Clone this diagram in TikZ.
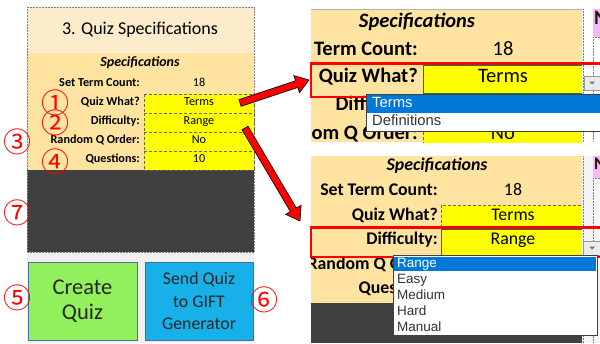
\documentclass[tikz,border=0pt]{standalone}
\usepackage{fontspec}
\setmainfont{Carlito}
\newfontfamily\circfont{Noto Sans CJK JP}
\newfontfamily\listfont{Liberation Sans}
\usetikzlibrary{calc}
\definecolor{titlebg}{RGB}{253,236,204}
\definecolor{specbg}{RGB}{254,228,160}
\definecolor{cellyel}{RGB}{255,255,0}
\definecolor{darkbg}{RGB}{64,64,64}
\definecolor{graybg}{RGB}{240,240,240}
\definecolor{btngreen}{RGB}{146,240,92}
\definecolor{btnblue}{RGB}{24,176,232}
\definecolor{btnborder}{RGB}{65,113,156}
\definecolor{selblue}{RGB}{0,120,215}
\definecolor{selgreen}{RGB}{33,115,70}
\definecolor{pinkcell}{RGB}{248,184,248}
\newcommand\fatarrow[2]{%
  \coordinate (#1n) at ($(#2)!13pt!(#1)$);
  \fill[red, draw=black, line width=0.6pt, line join=miter]
    ($(#1)!3.5pt!90:(#2)$) -- ($(#1n)!3.5pt!-90:(#1)$) -- ($(#1n)!9pt!-90:(#1)$) -- (#2)
    -- ($(#1n)!9pt!90:(#1)$) -- ($(#1n)!3.5pt!90:(#1)$) -- ($(#1)!3.5pt!-90:(#2)$) -- cycle;}
\tikzset{
  lbl/.style={font=\fontsize{12.2}{13}\selectfont\bfseries, anchor=mid east, inner sep=0pt},
  val/.style={font=\fontsize{12.2}{13}\selectfont, anchor=mid, inner sep=0pt},
  Ulbl/.style={font=\fontsize{20.5}{21}\selectfont\bfseries, anchor=mid east, inner sep=0pt},
  Uval/.style={font=\fontsize{20.5}{21}\selectfont, anchor=mid, inner sep=0pt},
  Dlbl/.style={font=\fontsize{17.8}{18}\selectfont\bfseries, anchor=mid east, inner sep=0pt},
  Dval/.style={font=\fontsize{17.8}{18}\selectfont, anchor=mid, inner sep=0pt},
  spechead/.style={anchor=mid, inner sep=0pt},
  ycell/.style={fill=cellyel, draw=black!60, densely dashed, line width=0.4pt},
  selcell/.style={fill=cellyel, draw=selgreen, line width=0.9pt},
  circ/.style={font=\circfont\fontsize{28}{28}\selectfont, text=red, inner sep=0pt, anchor=center},
  btn/.style={draw=btnborder, line width=1pt, align=center, text=black!85, inner sep=0pt},
  item/.style={anchor=mid west, inner sep=0pt, text=black!80},
  redbox/.style={draw=red, line width=2.5pt},
  ddlist/.style={fill=white, draw=black!75, line width=0.8pt},
  ddbtn/.style={fill=black!8, draw=black!40, line width=0.4pt},
  colsep/.style={draw=black!50, densely dotted, line width=0.5pt},
}
\begin{document}
\begin{tikzpicture}[x=1pt, y=-1pt]
\useasboundingbox (0,0) rectangle (600,343);
\fill[white] (0,0) rectangle (600,343);
%%%%%%%%%%%%%%%% LEFT PANEL
\fill[titlebg] (27,7) rectangle (254,53);
\fill[specbg] (27,53) rectangle (254,170);
\fill[darkbg] (27,170) rectangle (254,252);
\fill[graybg] (27,252) rectangle (254,343);
\draw[colsep] (27,7) rectangle (254,252);
\node[font=\fontsize{18}{19}\selectfont, inner sep=0pt, anchor=mid] (ttl) at (140,32) {3. Quiz Specifications};
\node[spechead, font=\fontsize{14}{15}\selectfont\bfseries\itshape] (lspec) at (140,64) {Specifications};
\node[lbl] (lstc) at (140,84) {Set Term Count:};
\node[val] (l18) at (199,84) {18};
\path[ycell] (144,94) rectangle (254,113);
\path[ycell] (144,113) rectangle (254,132);
\path[ycell] (144,132) rectangle (254,151);
\path[ycell] (144,151) rectangle (254,170);
\node[val] (lterms) at (199,103.5) {Terms};
\node[val] (lrange) at (199,122.5) {Range};
\node[val] (lno) at (199,141.5) {No};
\node[val] (lten) at (199,160.5) {10};
\node[lbl] (lqw) at (140,103.5) {Quiz What?};
\node[lbl] (ldif) at (140,122.5) {Difficulty:};
\node[lbl] (lrnd) at (140,141.5) {Random Q Order:};
\node[lbl] (lqs) at (140,160.5) {Questions:};
\node[btn, fill=btngreen, minimum width=109pt, minimum height=78pt, font=\fontsize{22.5}{25}\selectfont] (create) at (82.5,301) {Create\\Quiz};
\node[btn, fill=btnblue, minimum width=108pt, minimum height=78pt, font=\fontsize{17.8}{22.5}\selectfont] (send) at (199,301) {Send Quiz\\to GIFT\\Generator};
\node[circ] (n1) at (55,103) {①};
\node[circ] (n2) at (55,123) {②};
\node[circ] (n3) at (17,142) {③};
\node[circ] (n4) at (55,162) {④};
\node[circ] (n7) at (17,213) {⑦};
\node[circ] (n5) at (17,298) {⑤};
\node[circ] (n6) at (264,300) {⑥};
%%%%%%%%%%%%%%%% UPPER RIGHT PANEL
\begin{scope}
\clip (311,9) rectangle (582,142);
\fill[specbg] (311,9) rectangle (582,142);
\draw[black!30, line width=0.6pt] (311,9.3) -- (582,9.3);
\path[ycell] (423,94) rectangle (582,122);
\path[ycell] (423,122) rectangle (582,151);
\node[spechead, font=\fontsize{20.5}{21}\selectfont\bfseries\itshape] (uspec) at (417,25) {Specifications};
\node[Ulbl] (utc) at (418,53) {Term Count:};
\node[Uval] (u18) at (503,53) {18};
\node[Ulbl] (uqw) at (418,80) {Quiz What?};
\node[Ulbl] (udif) at (418,108) {Difficulty:};
\node[Ulbl] (urnd) at (418,137) {Random Q Order:};
\node[Uval] (uno) at (503,137) {No};
\path[selcell] (423,65) rectangle (582,93);
\node[Uval] (uterms) at (503,80) {Terms};
\end{scope}
\fill[white] (582,9) rectangle (600,142);
\fill[pinkcell] (593,9) rectangle (600,37);
\begin{scope}
\clip (593,9) rectangle (600,37);
\node[Ulbl, anchor=mid west, text=black!80!brown] (upink) at (594,22) {N};
\end{scope}
\draw[colsep] (583,9) -- (583,142);
\draw[colsep] (593,37) -- (593,142);
\draw[colsep] (593,37) -- (600,37);
\draw[redbox] (311,63.5) rectangle (602,97);
\path[ddbtn] (584,76) rectangle (601,90);
\fill[black!55] (589,81.5) -- (595,81.5) -- (592,84.5) -- cycle;
\path[ddlist] (366,94) rectangle (602,131);
\fill[selblue] (367,95) rectangle (601,112.5);
\node[item, font=\listfont\fontsize{14.8}{15}\selectfont, text=white] (utermsi) at (372,105) {Terms};
\node[item, font=\listfont\fontsize{14.8}{15}\selectfont] (udefi) at (372,123) {Definitions};
%%%%%%%%%%%%%%%% LOWER RIGHT PANEL
\begin{scope}
\clip (311,156) rectangle (582,343);
\fill[specbg] (311,156) rectangle (582,303);
\fill[darkbg] (311,303) rectangle (582,343);
\path[ycell] (441,205) rectangle (582,229);
\path[ycell] (441,255) rectangle (582,279);
\path[ycell] (441,279) rectangle (582,303);
\node[spechead, font=\fontsize{17.8}{18}\selectfont\bfseries\itshape] (dspec) at (437,168) {Specifications};
\node[Dlbl] (dstc) at (438,193) {Set Term Count:};
\node[Dval] (d18) at (513,193) {18};
\node[Dlbl] (dqw) at (438,218) {Quiz What?};
\node[Dval] (dterms) at (513,218) {Terms};
\node[Dlbl] (ddif) at (438,242) {Difficulty:};
\node[Dlbl] (drnd) at (438,267) {Random Q Order:};
\node[Dlbl] (dqs) at (438,291) {Questions:};
\path[selcell] (441,229) rectangle (582,255);
\node[Dval] (drange) at (513,242) {Range};
\end{scope}
\fill[black!4] (582,156) rectangle (600,343);
\fill[pinkcell] (593,156) rectangle (600,178);
\begin{scope}
\clip (593,156) rectangle (600,178);
\node[Dlbl, anchor=mid west, text=black!80!brown] (dpink) at (594,167) {N};
\end{scope}
\draw[colsep] (583,156) -- (583,343);
\draw[colsep] (593,178) -- (593,343);
\draw[colsep] (593,178) -- (600,178);
\draw[redbox] (311,227.5) rectangle (602,257);
\path[ddbtn] (583,241) rectangle (601,255);
\fill[black!55] (589,246.5) -- (595,246.5) -- (592,249.5) -- cycle;
\path[ddlist] (393,255) rectangle (597,335);
\fill[selblue] (394,256.5) rectangle (596,271);
\begin{scope}[every node/.append style={font=\listfont\fontsize{13.5}{14}\selectfont}]
\node[item, text=white] (drangei) at (397,265) {Range};
\node[item] (deasy) at (397,281) {Easy};
\node[item] (dmed) at (397,297) {Medium};
\node[item] (dhard) at (397,313) {Hard};
\node[item] (dman) at (397,329) {Manual};
\end{scope}
%%%%%%%%%%%%%%%% ARROWS
\coordinate (a1s) at (240,103);
\coordinate (a1e) at (309,80);
\coordinate (a2s) at (245,128);
\coordinate (a2e) at (300,221);
\fatarrow{a1s}{a1e}
\fatarrow{a2s}{a2e}
\end{tikzpicture}
\end{document}
